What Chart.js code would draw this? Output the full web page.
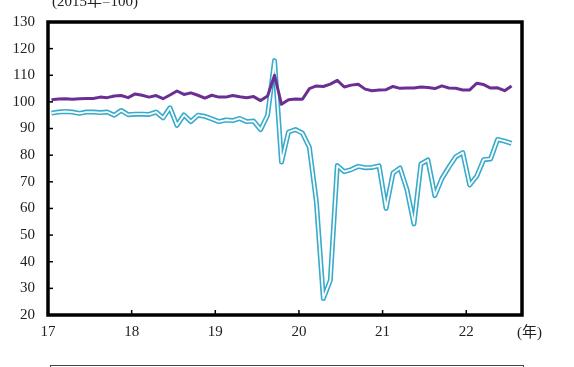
<!DOCTYPE html>
<html>
<head>
<meta charset="utf-8">
<script src="https://cdn.jsdelivr.net/npm/chart.js@4.4.1/dist/chart.umd.min.js"></script>
<style>
  body { margin: 0; background: #fff; }
  #wrap { position: relative; width: 574px; height: 367px; overflow: hidden; }
  .note { position: absolute; font-family: 'Liberation Serif', 'Noto Sans CJK JP', serif; font-size: 15px; color: #222; line-height: 15px; white-space: nowrap; }
  #unit { left: 52px; top: -6px; }
  #nen { left: 517px; top: 325px; }
  #legendBox { position: absolute; left: 50px; top: 365px; width: 472px; height: 20px; border: 1px solid #444; }
</style>
</head>
<body>
<div id="wrap">
  <canvas id="chart" width="574" height="367"></canvas>
  <div class="note" id="unit">(2015年=100)</div>
  <div class="note" id="nen">(年)</div>
  <div id="legendBox"></div>
</div>
<script>
// monthly, Jan 2017 .. Jul 2022 (2015年=100)
const startYear = 17;

const purpleSeries = [
  100.8, 101.1, 101.2, 101.0, 101.2, 101.3, 101.3, 101.8, 101.6, 102.2, 102.4, 101.6,
  103.0, 102.5, 101.8, 102.4, 101.2, 102.6, 104.1, 102.8, 103.4, 102.5, 101.4, 102.5,
  101.8, 101.8, 102.4, 101.9, 101.6, 102.0, 100.5, 102.2, 110.0, 99.1, 100.8, 101.1,
  101.0, 105.0, 106.0, 105.8, 106.7, 108.1, 105.6, 106.3, 106.6, 104.8, 104.2, 104.5,
  104.6, 105.8, 105.1, 105.2, 105.2, 105.6, 105.4, 105.0, 106.0, 105.2, 105.1, 104.5,
  104.5, 107.0, 106.5, 105.2, 105.3, 104.2, 106.0
];

const cyanSeries = [
  95.8, 96.2, 96.4, 96.2, 95.7, 96.2, 96.2, 96.0, 96.2, 95.0, 96.8, 95.2,
  95.4, 95.4, 95.3, 96.2, 94.0, 97.8, 91.2, 95.1, 92.6, 95.0, 94.6, 93.6,
  92.6, 93.2, 93.0, 93.8, 92.6, 92.8, 89.6, 95.0, 115.5, 77.4, 88.7, 89.6,
  88.3, 82.9, 62.5, 26.2, 33.0, 76.1, 73.8, 74.6, 75.8, 75.3, 75.4, 76.0,
  60.0, 73.3, 75.2, 67.0, 54.2, 76.7, 78.2, 64.8, 71.2, 75.5, 79.4, 81.0,
  68.8, 72.1, 78.3, 78.6, 85.9, 85.3, 84.4
];

const yMin = 20, yMax = 130, yStep = 10;
const monthsShown = 68;

// points sit in the middle of their month
const toPoints = arr => arr.map((v, i) => ({ x: i + 0.5, y: v }));

const frameAndTicks = {
  id: 'frameAndTicks',
  afterDraw(chart) {
    const { ctx, chartArea: a, scales } = chart;
    ctx.save();
    ctx.strokeStyle = '#000';
    ctx.lineWidth = 1.5;
    scales.y.ticks.forEach(t => {
      const y = scales.y.getPixelForValue(t.value);
      ctx.beginPath();
      ctx.moveTo(a.left, y);
      ctx.lineTo(a.left + 5, y);
      ctx.stroke();
    });
    scales.x.ticks.forEach(t => {
      const x = scales.x.getPixelForValue(t.value);
      ctx.beginPath();
      ctx.moveTo(x, a.bottom);
      ctx.lineTo(x, a.bottom - 5);
      ctx.stroke();
    });
    ctx.lineWidth = 3.5;
    ctx.strokeRect(a.left, a.top, a.right - a.left, a.bottom - a.top);
    ctx.restore();
  }
};

new Chart(document.getElementById('chart'), {
  type: 'line',
  data: {
    datasets: [
      { data: toPoints(purpleSeries), borderColor: '#6b2f94', borderWidth: 3, borderJoinStyle: 'round' },
      { data: toPoints(cyanSeries), borderColor: '#ffffff', borderWidth: 1.8, borderJoinStyle: 'round' },
      { data: toPoints(cyanSeries), borderColor: '#38abcb', borderWidth: 5, borderJoinStyle: 'round' }
    ]
  },
  options: {
    responsive: false,
    animation: false,
    devicePixelRatio: 1,
    layout: { padding: { left: 0, top: 15, right: 52, bottom: 0 } },
    elements: { point: { radius: 0 }, line: { tension: 0, fill: false } },
    plugins: { legend: { display: false }, tooltip: { enabled: false } },
    scales: {
      x: {
        type: 'linear',
        min: 0,
        max: monthsShown,
        afterFit: s => { s.height = 52; },
        grid: { display: false, drawTicks: false },
        border: { display: false },
        ticks: {
          stepSize: 12,
          includeBounds: false,
          padding: 8,
          maxRotation: 0,
          color: '#222',
          font: { family: "'Liberation Serif', serif", size: 15 },
          callback: v => (v % 12 === 0 ? String(startYear + v / 12) : '')
        }
      },
      y: {
        min: yMin,
        max: yMax,
        afterFit: s => { s.width = 48; },
        grid: { display: false, drawTicks: false },
        border: { display: false },
        ticks: {
          stepSize: yStep,
          padding: 13,
          color: '#222',
          font: { family: "'Liberation Serif', serif", size: 15 }
        }
      }
    }
  },
  plugins: [frameAndTicks]
});
</script>
</body>
</html>
